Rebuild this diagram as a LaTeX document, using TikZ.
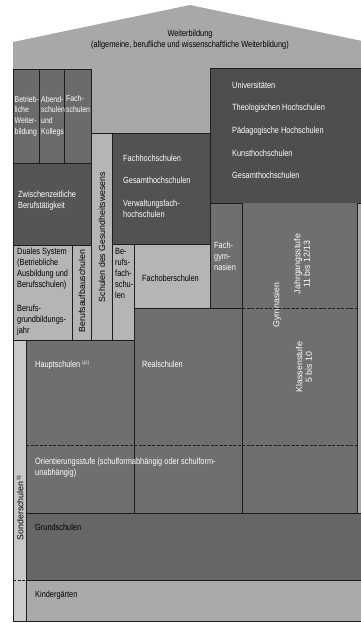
\documentclass[tikz,border=0pt]{standalone}
\usepackage{fontspec}
\setmainfont{Liberation Sans}
\newfontfamily\condfont{Liberation Sans}[FakeStretch=0.82]
\definecolor{roofC}{HTML}{A8A8A8}
\definecolor{midC}{HTML}{6B6B6B}
\definecolor{darkC}{HTML}{555555}
\definecolor{fhC}{HTML}{525252}
\definecolor{uniC}{HTML}{4E4E4E}
\definecolor{lightC}{HTML}{B5B5B5}
\definecolor{gymC}{HTML}{6F6F6F}
\definecolor{grundC}{HTML}{666666}
\definecolor{kinderC}{HTML}{A9A9A9}
\definecolor{sonderC}{HTML}{C9C9C9}
\definecolor{lineC}{HTML}{1E1E1E}
\begin{document}
\begin{tikzpicture}[x=1pt,y=-1pt,
  ln/.style={draw=lineC,line width=0.8pt},
  blk/.style={ln},
  txt/.style={inner sep=0pt,anchor=base west,align=left,
    font=\condfont\fontsize{9}{11}\selectfont},
  small/.style={txt,font=\condfont\fontsize{8.4}{10.8}\selectfont},
  wtxt/.style={txt,text=white},
  wsmall/.style={small,text=white},
  vtxt/.style={inner sep=0pt,rotate=90,align=center,
    font=\fontsize{8.8}{9.6}\selectfont},
  wvtxt/.style={vtxt,text=white}]
\useasboundingbox (0,0) rectangle (360,623);

% house outline with roof
\fill[roofC] (13,42) -- (190,5) -- (367,42) -- (367,621) -- (13,621) -- cycle;

% further education blocks at the top left
\path[blk,fill=midC] (13,69) rectangle (39.5,163);
\path[blk,fill=midC] (39.5,69) rectangle (64.5,163);
\path[blk,fill=midC] (64.5,69) rectangle (91.5,163);
\path[blk,fill=darkC] (13,163) rectangle (91.5,245);

% higher education
\path[blk,fill=uniC] (210,68) rectangle (366,203);
\path[blk,fill=fhC] (112,133) rectangle (210,244);

% vocational strips
\path[blk,fill=lightC] (91.5,133) rectangle (112,340);
\path[blk,fill=lightC] (13,245) rectangle (72,340);
\path[blk,fill=lightC] (72,245) rectangle (91.5,340);
\path[blk,fill=lightC] (112,244) rectangle (134,340);
\path[blk,fill=lightC] (134,244) rectangle (210,308);
\path[blk,fill=gymC] (210,203) rectangle (242,308);

% secondary schools
\fill[gymC] (242,203) rectangle (357,445);
\fill[gymC] (26,340) rectangle (134,445);
\fill[gymC] (134,308) rectangle (242,445);
\fill[gymC] (26,445) rectangle (357,513);

% primary and pre-school
\path[blk,fill=grundC] (26,513) rectangle (366,580);
\path[blk,fill=kinderC] (26,580) rectangle (366,621);
\path[blk,fill=sonderC] (13,340) rectangle (26,621);

% grid lines of the secondary level
\draw[ln] (134,308) -- (242,308);
\draw[ln] (242,203) -- (242,513);
\draw[ln] (357,203) -- (357,513);
\draw[ln] (134,308) -- (134,513);
\draw[ln] (26,340) -- (134,340);
\draw[ln,dashed,dash pattern=on 3pt off 1.5pt] (242,308) -- (357,308);
\draw[ln,dashed,dash pattern=on 3pt off 1.5pt] (26,445) -- (357,445);
\draw[ln,dashed,dash pattern=on 3pt off 1.5pt] (13,580) -- (26,580);

% labels (multi-line labels are anchored at the baseline of their last line)
\node[txt,anchor=base,align=center] (weiter) at (190,48)
  {Weiterbildung\\(allgemeine, berufliche und wissenschaftliche Weiterbildung)};

\node[wsmall] (betr) at (14.5,134.4) {Betrieb-\\liche\\Weiter-\\bildung};
\node[wsmall] (abend) at (41,134.4) {Abend-\\schulen\\und\\Kollegs};
\node[wsmall] (fachs) at (66,112.8) {Fach-\\schulen};
\node[wtxt] (zwisch) at (18,208) {Zwischenzeitliche\\Berufst\"atigkeit};

\node[wtxt,font=\condfont\fontsize{9}{22.7}\selectfont] (uni) at (232,178.8)
  {Universit\"aten\\Theologischen Hochschulen\\P\"adagogische Hochschulen\\Kunsthochschulen\\Gesamthochschulen};
\node[wtxt] (fh1) at (123,161) {Fachhochschulen};
\node[wtxt] (fh2) at (123,183) {Gesamthochschulen};
\node[wtxt] (fh3) at (123,217) {Verwaltungsfach-\\hochschulen};

\node[txt] (dual) at (17,287) {Duales System\\(Betriebliche\\Ausbildung und\\Berufsschulen)};
\node[txt] (bgj) at (17,333) {Berufs-\\grundbildungs-\\jahr};
\node[vtxt] (bas) at (82,291) {Berufsaufbauschulen};
\node[vtxt] (gesund) at (102,237) {Schulen des Gesundheitswesens};
\node[txt] (bfs) at (115,298) {Be-\\rufs-\\fach-\\schu-\\len};
\node[txt] (fos) at (142,281) {Fachoberschulen};
\node[wtxt] (fgym) at (214,270) {Fach-\\gym-\\nasien};

\node[wvtxt] (jgst) at (302,264) {Jahrgangsstufe\\11 bis 12/13};
\node[wvtxt] (gymn) at (277,305) {Gymnasien};
\node[wvtxt] (klst) at (304,367) {Klassenstufe\\5 bis 10};

\node[wtxt] (haupt) at (35,367) {Hauptschulen\,\raisebox{3pt}{\fontsize{5}{5}\selectfont 1)2)}};
\node[wtxt] (real) at (142,367) {Realschulen};
\node[wtxt] (orient) at (35,475) {Orientierungsstufe (schulformabh\"angig oder schulform-\\unabh\"angig)};
\node[txt] (grund) at (35,530) {Grundschulen};
\node[txt] (kinder) at (35,597) {Kinderg\"arten};
\node[vtxt] (sonder) at (20,508) {Sonderschulen\,\raisebox{3pt}{\fontsize{5}{5}\selectfont 3)}};
\end{tikzpicture}
\end{document}
